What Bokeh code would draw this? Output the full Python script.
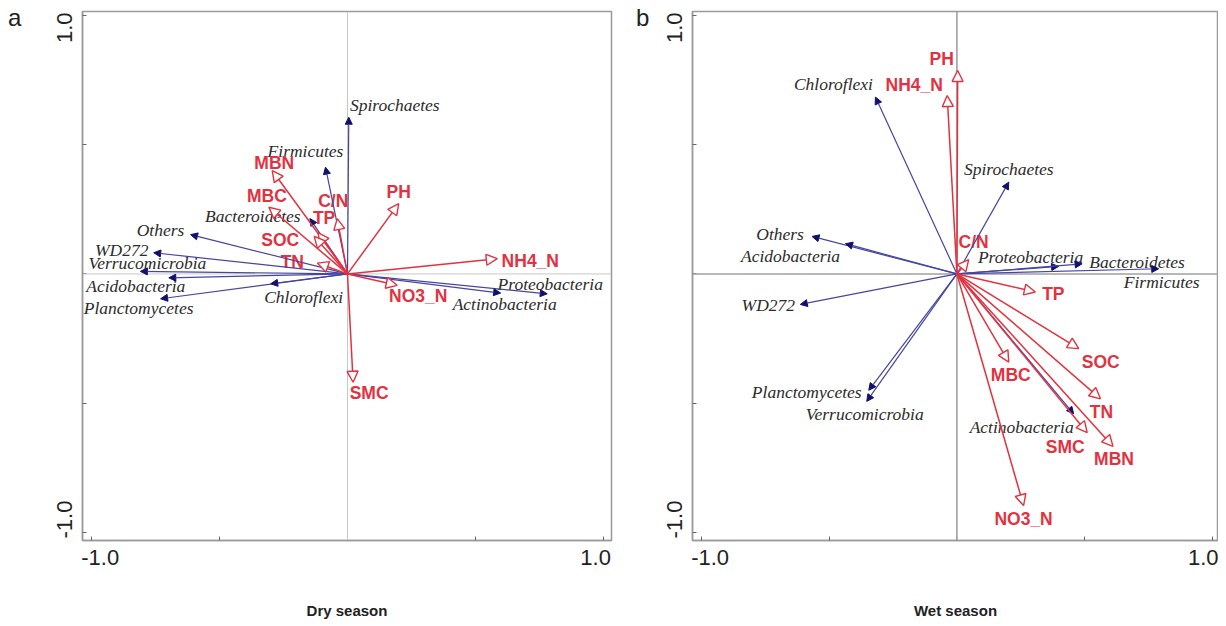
from bokeh.plotting import figure
from bokeh.models import (Arrow, NormalHead, ColumnDataSource, Span, Div,
                          FixedTicker, CustomJSTickFormatter, Range1d)
from bokeh.layouts import row
from bokeh.embed import file_html
from bokeh.resources import INLINE
from bokeh.core.properties import value

# ---------------- data (RDA loadings) ----------------
# Panel a: Dry season
dry_species = ["Spirochaetes", "Firmicutes", "Bacteroidetes", "Others", "WD272",
               "Verrucomicrobia", "Acidobacteria", "Planctomycetes", "Chloroflexi",
               "Proteobacteria", "Actinobacteria"]
dry_species_x = [0.005, -0.086, -0.147, -0.613, -0.757, -0.809, -0.698, -0.730, -0.300, 0.780, 0.598]
dry_species_y = [0.606, 0.413, 0.214, 0.152, 0.082, 0.010, -0.015, -0.096, -0.038, -0.077, -0.074]

dry_env = ["MBN", "MBC", "C/N", "TP", "SOC", "TN", "PH", "NH4_N", "NO3_N", "SMC"]
dry_env_x = [-0.294, -0.307, -0.040, -0.115, -0.130, -0.118, 0.200, 0.585, 0.194, 0.022]
dry_env_y = [0.400, 0.258, 0.214, 0.160, 0.145, 0.042, 0.272, 0.059, -0.044, -0.419]

# Panel b: Wet season
wet_species = ["Chloroflexi", "Spirochaetes", "Others", "Acidobacteria", "WD272",
               "Planctomycetes", "Verrucomicrobia", "Proteobacteria", "Bacteroidetes",
               "Firmicutes", "Actinobacteria"]
wet_species_x = [-0.319, 0.203, -0.567, -0.436, -0.613, -0.345, -0.353, 0.398, 0.490, 0.790, 0.457]
wet_species_y = [0.684, 0.355, 0.145, 0.117, -0.118, -0.450, -0.493, 0.029, 0.039, 0.020, -0.541]

wet_env = ["PH", "NH4_N", "C/N", "TP", "SOC", "MBC", "TN", "SMC", "MBN", "NO3_N"]
wet_env_x = [0.003, -0.038, 0.046, 0.307, 0.477, 0.203, 0.562, 0.510, 0.611, 0.261]
wet_env_y = [0.787, 0.690, 0.055, -0.070, -0.289, -0.341, -0.483, -0.614, -0.667, -0.896]

axis_tick_values = [-1.0, -0.5, 0.0, 0.5, 1.0]
tick_label_text = ["-1.0", "1.0"]

# ---------------- layout: label offsets (pixels, right / up) ----------------
dry_species_off = {"Spirochaetes": (46, 12), "Firmicutes": (-20, 16), "Bacteroidetes": (-57, 3),
                   "Others": (-30, 5), "WD272": (-32, 3), "Verrucomicrobia": (7, 8),
                   "Acidobacteria": (-33, -8), "Planctomycetes": (-22, -9), "Chloroflexi": (33, -13),
                   "Proteobacteria": (3, 10), "Actinobacteria": (4, -11)}
dry_env_off = {"MBN": (2, 8), "MBC": (-2, 11), "C/N": (-4, 18), "TP": (6, 15), "SOC": (-34, -4),
               "TN": (-25, 1), "PH": (0, 12), "NH4_N": (33, -2), "NO3_N": (21, -11), "SMC": (16, -11)}
wet_species_off = {"Chloroflexi": (-42, 13), "Spirochaetes": (0, 13), "Others": (-32, 2),
                   "Acidobacteria": (-55, -12), "WD272": (-32, -1), "Planctomycetes": (-62, -2),
                   "Verrucomicrobia": (-2, -13), "Proteobacteria": (-28, 9), "Bacteroidetes": (55, 2),
                   "Firmicutes": (3, -13), "Actinobacteria": (-52, -13)}
wet_env_off = {"PH": (-16, 11), "NH4_N": (-33, 11), "C/N": (5, 18), "TP": (18, -2), "SOC": (22, -13),
               "MBC": (2, -13), "TN": (1, -13), "SMC": (-22, -14), "MBN": (1, -13), "NO3_N": (0, -13)}

RED = "#e2323f"
BLUE_LINE = "#4646a0"
BLUE_HEAD = "#10106e"
GRAY = "#9a9a9a"
SANS = "Liberation Sans"
SERIF = "Liberation Serif"
FIG_H = 625


def make_panel(title, sp, spx, spy, sp_off, env, ex, ey, env_off,
               x_rng, border_left, border_right, frame_w, zero_color, zero_width):
    p = figure(frame_width=frame_w, frame_height=529,
               x_range=Range1d(*x_rng), y_range=Range1d(-1.031, 1.015),
               output_backend="svg", toolbar_location=None,
               min_border_left=border_left, min_border_right=border_right,
               min_border_top=11, min_border_bottom=FIG_H - 11 - 529)
    p.xgrid.visible = False
    p.ygrid.visible = False
    p.outline_line_color = GRAY
    p.outline_line_width = 1.5
    p.background_fill_color = "white"
    p.border_fill_color = "white"

    fmt = CustomJSTickFormatter(args=dict(labels=tick_label_text),
                                code="return tick < 0 ? labels[0] : labels[1];")
    p.xaxis.ticker = FixedTicker(ticks=[-0.966, 0.969], minor_ticks=axis_tick_values)
    p.yaxis.ticker = FixedTicker(ticks=[-0.950, 0.952], minor_ticks=axis_tick_values)
    for ax in (p.xaxis[0], p.yaxis[0]):
        ax.formatter = fmt
        ax.axis_line_color = GRAY
        ax.axis_line_width = 1.5
        ax.major_tick_in = 0
        ax.major_tick_out = 0
        ax.minor_tick_in = 4
        ax.minor_tick_out = 0
        ax.minor_tick_line_color = "#666666"
        ax.major_label_text_font = SANS
        ax.major_label_text_font_size = "22px"
        ax.major_label_text_color = "#222222"
        ax.major_label_standoff = 9
    p.yaxis.major_label_orientation = "vertical"
    p.yaxis.major_label_standoff = 10
    p.xaxis.axis_label = title
    p.xaxis.axis_label_text_font = SANS
    p.xaxis.axis_label_text_font_style = "bold"
    p.xaxis.axis_label_text_font_size = "15px"
    p.xaxis.axis_label_text_color = "#222222"
    p.xaxis.axis_label_standoff = 34

    p.add_layout(Span(location=0, dimension="width", line_color=zero_color, line_width=zero_width))
    p.add_layout(Span(location=0, dimension="height", line_color=zero_color, line_width=zero_width))

    ssrc = ColumnDataSource(dict(x=spx, y=spy, name=sp,
                                 dx=[sp_off[n][0] for n in sp],
                                 dy=[-sp_off[n][1] for n in sp]))
    esrc = ColumnDataSource(dict(x=ex, y=ey, name=env,
                                 dx=[env_off[n][0] for n in env],
                                 dy=[-env_off[n][1] for n in env]))

    p.add_layout(Arrow(end=NormalHead(size=7, fill_color=BLUE_HEAD, line_color=BLUE_HEAD, line_width=1),
                       x_start=0, y_start=0, x_end="x", y_end="y", source=ssrc,
                       line_color=BLUE_LINE, line_width=1.2))
    p.add_layout(Arrow(end=NormalHead(size=11, fill_color="white", line_color=RED, line_width=1.4),
                       x_start=0, y_start=0, x_end="x", y_end="y", source=esrc,
                       line_color=RED, line_width=1.5))

    p.text(x="x", y="y", text="name", x_offset="dx", y_offset="dy", source=ssrc,
           text_font=value(SERIF), text_font_style="italic", text_font_size="17.5px",
           text_color="#2b2b2b", text_align="center", text_baseline="middle")
    p.text(x="x", y="y", text="name", x_offset="dx", y_offset="dy", source=esrc,
           text_font=value(SANS), text_font_style="bold", text_font_size="17.5px",
           text_color=RED, text_align="center", text_baseline="middle")
    return p


def letter_div(letter, width, pad_left):
    html = ('<div style="padding:6px 0 0 %dpx;font-family:\'Liberation Sans\',Arial,sans-serif;'
            'font-size:24px;line-height:1;color:#222222;">%s</div>' % (pad_left, letter))
    return Div(text=html, width=width, height=FIG_H, margin=0)


da = letter_div("a", 42, 8)
pa = make_panel("Dry season", dry_species, dry_species_x, dry_species_y, dry_species_off,
                dry_env, dry_env_x, dry_env_y, dry_env_off,
                (-1.035, 1.031), 40, 8, 529, "#c8c8c8", 1.0)
db = letter_div("b", 30, 17)
pb = make_panel("Wet season", wet_species, wet_species_x, wet_species_y, wet_species_off,
                wet_env, wet_env_x, wet_env_y, wet_env_off,
                (-1.035, 1.024), 43, 0, 526, "#a0a0a0", 1.6)

layout = row(da, pa, db, pb)
open("out.html", "w").write(file_html(layout, INLINE))
